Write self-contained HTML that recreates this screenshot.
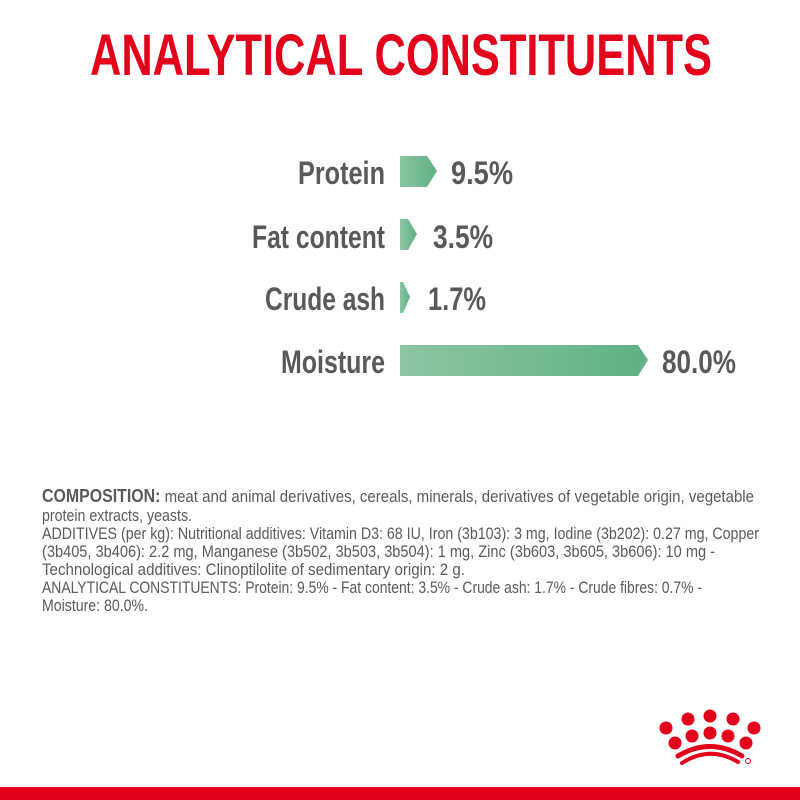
<!DOCTYPE html>
<html><head><meta charset="utf-8"><style>
html,body{margin:0;padding:0;background:#fff;width:800px;height:800px;overflow:hidden}
svg{display:block}
</style></head><body>
<svg width="800" height="800" viewBox="0 0 800 800" xmlns="http://www.w3.org/2000/svg">
<defs>
<linearGradient id="g" x1="0" x2="1" y1="0" y2="0">
<stop offset="0" stop-color="#8cc5a3"/><stop offset="1" stop-color="#5fb185"/>
</linearGradient>
</defs>
<text x="90" y="75" font-family="Liberation Sans, sans-serif" font-weight="bold" font-size="58" fill="#e2001a" textLength="622" lengthAdjust="spacingAndGlyphs">ANALYTICAL CONSTITUENTS</text>

<g font-family="Liberation Sans, sans-serif" font-weight="bold" font-size="32" fill="#58595b">
<text x="298" y="184" textLength="87" lengthAdjust="spacingAndGlyphs">Protein</text>
<text x="252" y="248" textLength="133" lengthAdjust="spacingAndGlyphs">Fat content</text>
<text x="265" y="310" textLength="120" lengthAdjust="spacingAndGlyphs">Crude ash</text>
<text x="281" y="373" textLength="104" lengthAdjust="spacingAndGlyphs">Moisture</text>
<text x="451" y="184" textLength="62" lengthAdjust="spacingAndGlyphs">9.5%</text>
<text x="433" y="248" textLength="60" lengthAdjust="spacingAndGlyphs">3.5%</text>
<text x="428" y="310" textLength="58" lengthAdjust="spacingAndGlyphs">1.7%</text>
<text x="662" y="373" textLength="74" lengthAdjust="spacingAndGlyphs">80.0%</text>
</g>
<polygon points="400,156 427,156 437,171 427,187 400,187" fill="url(#g)"/>
<polygon points="400,219 408,219 417,234 408,250 400,250" fill="url(#g)"/>
<polygon points="400,282 403,282 410,297 403,313 400,313" fill="url(#g)"/>
<polygon points="400,345 638,345 648,360 638,376 400,376" fill="url(#g)"/>

<g font-family="Liberation Sans, sans-serif" font-size="17" fill="#5a5a5c">
<text x="42" y="502" textLength="712" lengthAdjust="spacingAndGlyphs"><tspan font-weight="bold" font-size="18">COMPOSITION:</tspan> meat and animal derivatives, cereals, minerals, derivatives of vegetable origin, vegetable</text>
<text x="42" y="521" textLength="150" lengthAdjust="spacingAndGlyphs">protein extracts, yeasts.</text>
<text x="42" y="539" textLength="717" lengthAdjust="spacingAndGlyphs">ADDITIVES (per kg): Nutritional additives: Vitamin D3: 68 IU, Iron (3b103): 3 mg, Iodine (3b202): 0.27 mg, Copper</text>
<text x="42" y="557" textLength="673" lengthAdjust="spacingAndGlyphs">(3b405, 3b406): 2.2 mg, Manganese (3b502, 3b503, 3b504): 1 mg, Zinc (3b603, 3b605, 3b606): 10 mg -</text>
<text x="42" y="575" textLength="423" lengthAdjust="spacingAndGlyphs">Technological additives: Clinoptilolite of sedimentary origin: 2 g.</text>
<text x="42" y="593" textLength="660" lengthAdjust="spacingAndGlyphs">ANALYTICAL CONSTITUENTS: Protein: 9.5% - Fat content: 3.5% - Crude ash: 1.7% - Crude fibres: 0.7% -</text>
<text x="42" y="611" textLength="106" lengthAdjust="spacingAndGlyphs">Moisture: 80.0%.</text>
</g>

<g fill="#e2001a">
<circle cx="666" cy="728" r="6.5"/>
<circle cx="688" cy="719" r="6.5"/>
<circle cx="710" cy="716" r="6.5"/>
<circle cx="733" cy="719" r="6.5"/>
<circle cx="754" cy="728" r="6.5"/>
<circle cx="675" cy="743" r="6.5"/>
<circle cx="692" cy="736" r="6.5"/>
<circle cx="710" cy="733" r="6.5"/>
<circle cx="728" cy="736" r="6.5"/>
<circle cx="746" cy="743" r="6.5"/>
</g>
<path d="M678,756 Q710,737 742,756" stroke="#e2001a" stroke-width="5" stroke-linecap="round" fill="none"/>
<path d="M682,763 Q710,745 738,762" stroke="#e2001a" stroke-width="4" stroke-linecap="round" fill="none"/>
<circle cx="748" cy="761" r="2.5" fill="none" stroke="#e2001a" stroke-width="1"/>
<rect x="0" y="787" width="800" height="13" fill="#e2001a"/>
</svg>
</body></html>
